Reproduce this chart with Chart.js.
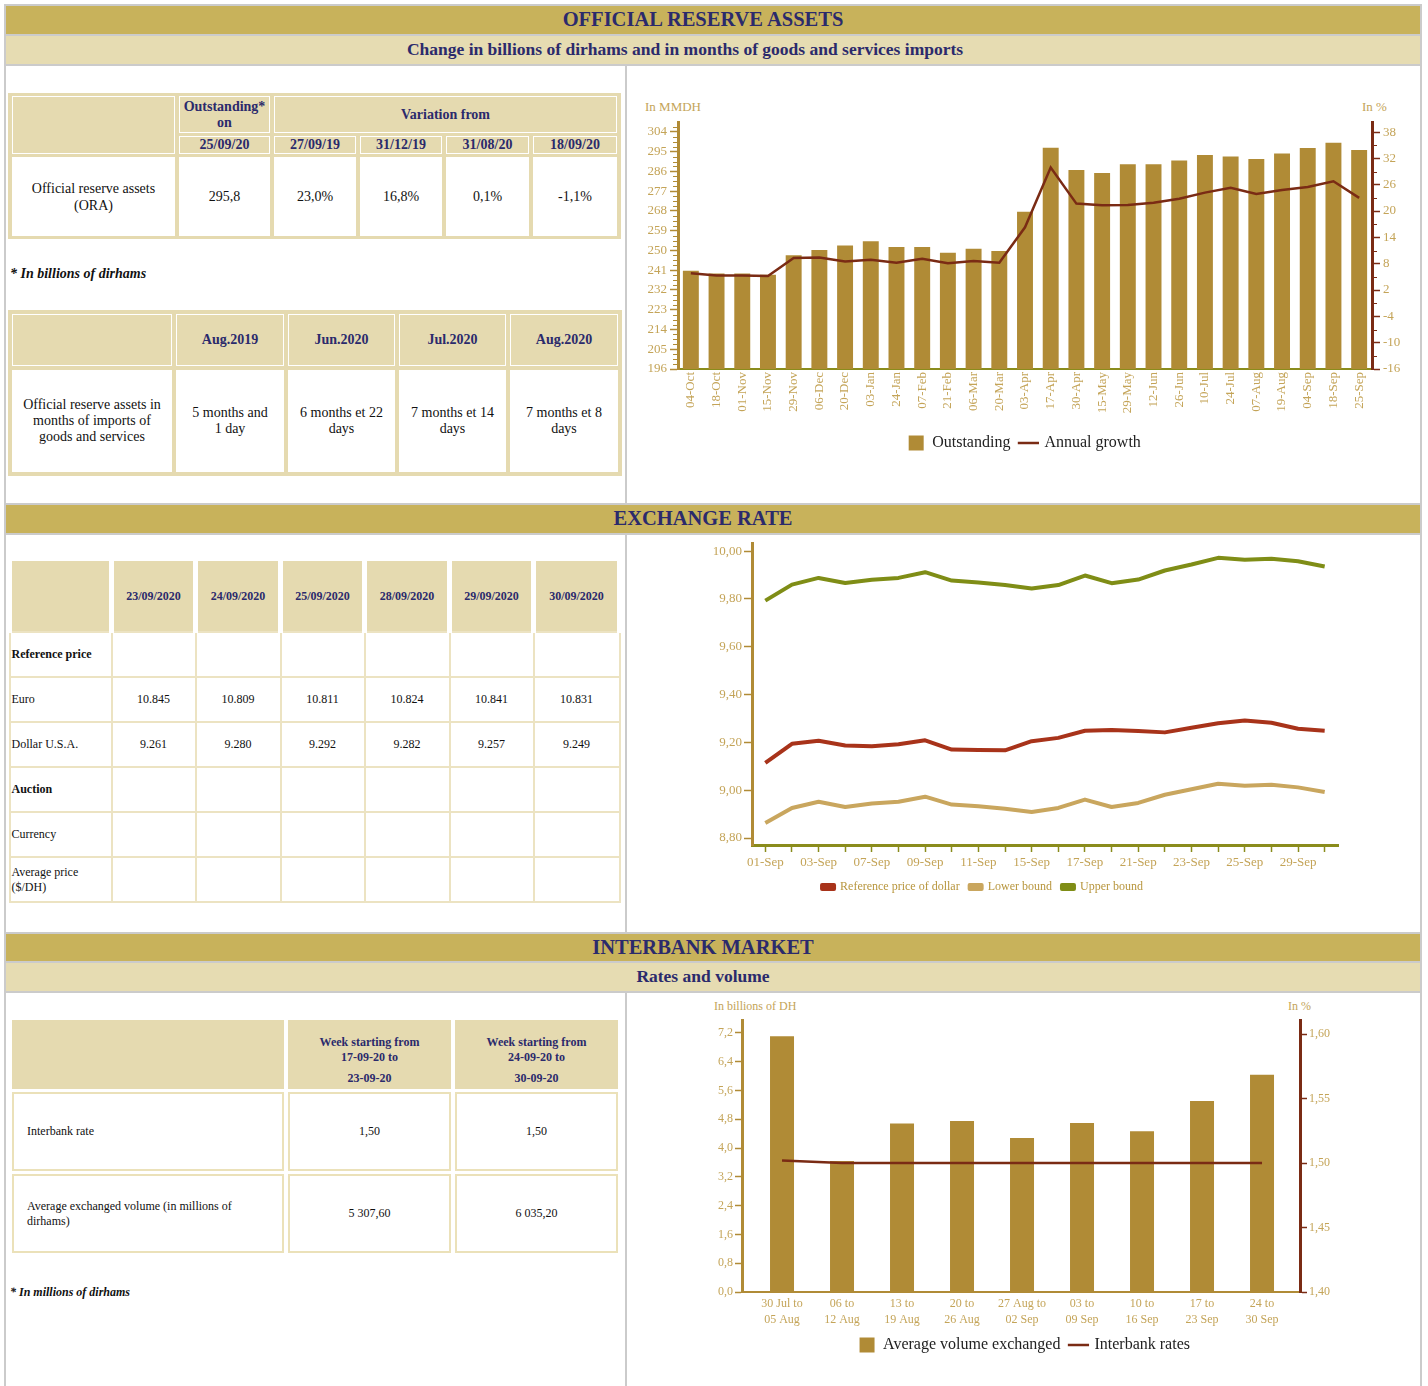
<!DOCTYPE html>
<html lang="en">
<head>
<meta charset="utf-8">
<title>Official reserve assets - Exchange rate - Interbank market</title>
<script src="https://cdn.jsdelivr.net/npm/chart.js@4.4.1/dist/chart.umd.min.js"></script>
<style>
  body { margin: 0; background: #fff; font-family: "Liberation Serif", "Times New Roman", serif; color: #111; }
  #page { position: relative; width: 1428px; height: 1386px; overflow: hidden; }
  .band { position: absolute; left: 4px; width: 1418px; box-sizing: border-box;
          border: 2px solid #cbcbcb; border-bottom: none; text-align: center;
          color: #2b2a6c; font-weight: bold; padding-right: 20px; }
  .gold { background: #c8b25b; font-size: 20.5px; }
  .beige { background: #e6dcb2; font-size: 17.5px; }
  .white { background: #fff; }
  .divider { position: absolute; left: 625px; width: 2px; background: #cbcbcb; }
  .chartbox { position: absolute; left: 627px; width: 795px; }
  .unit { position: absolute; color: #c4a458; font-size: 13px; }
  .note { position: absolute; left: 10px; font-weight: bold; font-style: italic; }

  table { position: absolute; table-layout: fixed; }
  th, td { padding: 0; text-align: center; vertical-align: middle; }

  .t-ora { background: #e5dab0; border-collapse: separate; border-spacing: 4px 3px; font-size: 14px; }
  .t-ora th { background: #e5dab0; border: 1px solid #fff; color: #2b2a6c; line-height: 16px; }
  .t-ora td { background: #fff; line-height: 17px; }

  .t-fx { border-collapse: collapse; font-size: 12px; }
  .t-fx th { background: #e5dab0; color: #2b2a6c; border-left: 5px solid #fff; border-right: 5px solid #fff; }
  .t-fx td { border: 2px solid #ece3c2; line-height: 15px; }
  .t-fx td.lbl { text-align: left; padding-left: 1px; }

  .t-ib { border-collapse: separate; border-spacing: 4px 3px; font-size: 12px; }
  .t-ib th { background: #e5dab0; color: #2b2a6c; vertical-align: top; padding-top: 15px; line-height: 15px; }
  .t-ib td { border: 2px solid #ebe1b9; background: #fff; line-height: 15px; }
  .t-ib td.lbl { text-align: left; padding-left: 13px; }
</style>
</head>
<body>
<div id="page">

  <!-- section 1 -->
  <div class="band gold" style="top:4px;height:30px;line-height:27px;">OFFICIAL RESERVE ASSETS</div>
  <div class="band beige" style="top:34px;height:30px;line-height:26px;padding-right:56px;">Change in billions of dirhams and in months of goods and services imports</div>
  <div class="band white" style="top:64px;height:440px;"></div>
  <div class="divider" style="top:64px;height:440px;"></div>

  <table class="t-ora" style="left:8px;top:93px;width:613px;">
    <colgroup><col style="width:163px"><col style="width:91px"><col style="width:82px"><col style="width:82px"><col style="width:83px"><col style="width:84px"></colgroup>
    <tr style="height:37px"><th rowspan="2"></th><th>Outstanding*<br>on</th><th colspan="4">Variation from</th></tr>
    <tr style="height:17px"><th>25/09/20</th><th>27/09/19</th><th>31/12/19</th><th>31/08/20</th><th>18/09/20</th></tr>
    <tr style="height:79px"><td>Official reserve assets<br>(ORA)</td><td>295,8</td><td>23,0%</td><td>16,8%</td><td>0,1%</td><td>-1,1%</td></tr>
  </table>
  <div class="note" style="top:266px;font-size:14px;">* In billions of dirhams</div>

  <table class="t-ora" style="left:8px;top:310px;width:614px;border-spacing:4px;">
    <colgroup><col style="width:160px"><col style="width:108px"><col style="width:107px"><col style="width:107px"><col style="width:108px"></colgroup>
    <tr style="height:52px"><th></th><th>Aug.2019</th><th>Jun.2020</th><th>Jul.2020</th><th>Aug.2020</th></tr>
    <tr style="height:102px"><td style="line-height:16px">Official reserve assets in<br>months of imports of<br>goods and services</td>
      <td style="line-height:16px">5 months and<br>1 day</td><td style="line-height:16px">6 months et 22<br>days</td>
      <td style="line-height:16px">7 months et 14<br>days</td><td style="line-height:16px">7 months et 8<br>days</td></tr>
  </table>

  <div class="unit" style="left:645px;top:99px;">In MMDH</div>
  <div class="unit" style="left:1362px;top:99px;">In %</div>
  <div class="chartbox" style="top:64px;height:438px;"><canvas id="reserveChart"></canvas></div>

  <!-- section 2 -->
  <div class="band gold" style="top:503px;height:30px;line-height:26px;">EXCHANGE RATE</div>
  <div class="band white" style="top:533px;height:400px;"></div>
  <div class="divider" style="top:533px;height:400px;"></div>

  <table class="t-fx" style="left:7px;top:561px;width:613px;">
    <colgroup><col style="width:102px"><col style="width:84px"><col style="width:85px"><col style="width:84px"><col style="width:85px"><col style="width:84px"><col style="width:86px"></colgroup>
    <tr style="height:71px"><th></th><th>23/09/2020</th><th>24/09/2020</th><th>25/09/2020</th><th>28/09/2020</th><th>29/09/2020</th><th>30/09/2020</th></tr>
    <tr style="height:45px"><td class="lbl"><b>Reference price</b></td><td></td><td></td><td></td><td></td><td></td><td></td></tr>
    <tr style="height:45px"><td class="lbl">Euro</td><td>10.845</td><td>10.809</td><td>10.811</td><td>10.824</td><td>10.841</td><td>10.831</td></tr>
    <tr style="height:45px"><td class="lbl">Dollar U.S.A.</td><td>9.261</td><td>9.280</td><td>9.292</td><td>9.282</td><td>9.257</td><td>9.249</td></tr>
    <tr style="height:45px"><td class="lbl"><b>Auction</b></td><td></td><td></td><td></td><td></td><td></td><td></td></tr>
    <tr style="height:45px"><td class="lbl">Currency</td><td></td><td></td><td></td><td></td><td></td><td></td></tr>
    <tr style="height:45px"><td class="lbl">Average price<br>($/DH)</td><td></td><td></td><td></td><td></td><td></td><td></td></tr>
  </table>

  <div class="chartbox" style="top:533px;height:399px;"><canvas id="rateChart"></canvas></div>

  <!-- section 3 -->
  <div class="band gold" style="top:932px;height:29px;line-height:26px;">INTERBANK MARKET</div>
  <div class="band beige" style="top:961px;height:30px;line-height:27px;">Rates and volume</div>
  <div class="band white" style="top:991px;height:400px;"></div>
  <div class="divider" style="top:991px;height:400px;"></div>

  <table class="t-ib" style="left:8px;top:1017px;width:614px;">
    <colgroup><col style="width:272px"><col style="width:163px"><col style="width:163px"></colgroup>
    <tr style="height:69px"><th></th>
      <th>Week starting from<br>17-09-20 to<div style="margin-top:6px">23-09-20</div></th>
      <th>Week starting from<br>24-09-20 to<div style="margin-top:6px">30-09-20</div></th></tr>
    <tr style="height:79px"><td class="lbl">Interbank rate</td><td>1,50</td><td>1,50</td></tr>
    <tr style="height:79px"><td class="lbl">Average exchanged volume (in millions of<br>dirhams)</td><td>5 307,60</td><td>6 035,20</td></tr>
  </table>
  <div class="note" style="top:1285px;font-size:12px;">* In millions of dirhams</div>

  <div class="unit" style="left:714px;top:999px;font-size:12px;">In billions of DH</div>
  <div class="unit" style="left:1288px;top:999px;font-size:12px;">In %</div>
  <div class="chartbox" style="top:992px;height:394px;"><canvas id="interbankChart"></canvas></div>
</div>

<script>
// official reserve assets (billions of dirhams) and annual growth (%)
const reserveDates = ['04-Oct', '18-Oct', '01-Nov', '15-Nov', '29-Nov', '06-Dec', '20-Dec', '03-Jan', '24-Jan',
  '07-Feb', '21-Feb', '06-Mar', '20-Mar', '03-Apr', '17-Apr', '30-Apr', '15-May', '29-May', '12-Jun', '26-Jun',
  '10-Jul', '24-Jul', '07-Aug', '19-Aug', '04-Sep', '18-Sep', '25-Sep'];
const outstanding = [240.7, 239.5, 239.5, 238.9, 247.8, 250.2, 252.3, 254.2, 251.6, 251.6, 249.0, 250.8, 249.8,
  267.6, 296.8, 286.6, 285.3, 289.2, 289.2, 291.0, 293.5, 292.8, 291.6, 294.1, 296.7, 299.1, 295.8];
const annualGrowth = [5.8, 5.3, 5.3, 5.2, 9.3, 9.4, 8.5, 8.9, 8.2, 9.1, 8.1, 8.6, 8.2,
  16.3, 29.9, 21.7, 21.3, 21.4, 21.9, 22.8, 24.2, 25.3, 23.9, 24.8, 25.5, 26.8, 23.0];
const amountTicks = [196, 205, 214, 223, 232, 241, 250, 259, 268, 277, 286, 295, 304];
const growthTicks = [-16, -10, -4, 2, 8, 14, 20, 26, 32, 38];

// exchange rate, September 2020
const rateDays = ['01-Sep', '02-Sep', '03-Sep', '04-Sep', '07-Sep', '08-Sep', '09-Sep', '10-Sep', '11-Sep', '14-Sep',
  '15-Sep', '16-Sep', '17-Sep', '18-Sep', '21-Sep', '22-Sep', '23-Sep', '24-Sep', '25-Sep', '28-Sep', '29-Sep', '30-Sep'];
const refDollar = [9.114, 9.194, 9.207, 9.187, 9.184, 9.192, 9.209, 9.170, 9.168, 9.167, 9.205,
  9.219, 9.249, 9.252, 9.248, 9.242, 9.261, 9.280, 9.292, 9.282, 9.257, 9.249];
const lowerBound = [8.863, 8.926, 8.952, 8.930, 8.945, 8.952, 8.973, 8.940, 8.933, 8.923, 8.909,
  8.926, 8.961, 8.930, 8.947, 8.981, 9.004, 9.027, 9.019, 9.023, 9.012, 8.993];
const upperBound = [9.793, 9.860, 9.888, 9.867, 9.880, 9.888, 9.912, 9.877, 9.869, 9.858, 9.844,
  9.858, 9.898, 9.866, 9.881, 9.919, 9.944, 9.972, 9.964, 9.968, 9.958, 9.936];
const rateTicks = [8.8, 9.0, 9.2, 9.4, 9.6, 9.8, 10.0];

// interbank market, weekly
const weeks = [['30 Jul to', '05 Aug'], ['06 to', '12 Aug'], ['13 to', '19 Aug'], ['20 to', '26 Aug'],
  ['27 Aug to', '02 Sep'], ['03 to', '09 Sep'], ['10 to', '16 Sep'], ['17 to', '23 Sep'], ['24 to', '30 Sep']];
const avgVolume = [7.11, 3.64, 4.68, 4.75, 4.28, 4.70, 4.47, 5.31, 6.04];
const interbankRate = [1.502, 1.50, 1.50, 1.50, 1.50, 1.50, 1.50, 1.50, 1.50];
const volumeTicks = [0, 0.8, 1.6, 2.4, 3.2, 4.0, 4.8, 5.6, 6.4, 7.2];
const interbankTicks = [1.40, 1.45, 1.50, 1.55, 1.60];

Chart.defaults.font.family = '"Liberation Serif", "Times New Roman", serif';
Chart.defaults.animation = false;

const tickGold = '#c4a458';
const barGold = '#b08b36';
const brown = '#7a2b14';
const olive = '#8a8c1c';

// axes only show the listed values
function fixedTicks(list) {
  return scale => { scale.ticks = list.map(v => ({ value: v })); };
}
function comma(digits) {
  return v => v.toFixed(digits).replace('.', ',');
}

// small unlabelled ticks between the labelled ones
const minorTicks = {
  id: 'minorTicks',
  afterDraw(chart, args, opts) {
    const ctx = chart.ctx;
    (opts.axes || []).forEach(a => {
      const scale = chart.scales[a.id];
      ctx.save();
      ctx.strokeStyle = a.color;
      ctx.lineWidth = 1;
      a.values.forEach(v => {
        const y = Math.round(scale.getPixelForValue(v)) + 0.5;
        const x0 = a.side === 'left' ? scale.right : scale.left;
        const x1 = a.side === 'left' ? x0 - 5 : x0 + 5;
        ctx.beginPath();
        ctx.moveTo(x0, y);
        ctx.lineTo(x1, y);
        ctx.stroke();
      });
      ctx.restore();
    });
  }
};

const minorAmount = [];
for (let v = 198.25; v < 308.5; v += 2.25) {
  if ((v - 196) % 9 !== 0) minorAmount.push(v);
}
const minorGrowth = [-13, -7, -1, 5, 11, 17, 23, 29, 35];

new Chart(document.getElementById('reserveChart'), {
  type: 'bar',
  data: {
    labels: reserveDates,
    datasets: [
      { type: 'bar', label: 'Outstanding', data: outstanding, yAxisID: 'yAmount',
        backgroundColor: barGold, barPercentage: 0.62, categoryPercentage: 1, pointStyle: 'rect', order: 2 },
      { type: 'line', label: 'Annual growth', data: annualGrowth, yAxisID: 'yGrowth',
        borderColor: brown, backgroundColor: brown, borderWidth: 2.5, pointRadius: 0, pointStyle: 'line', order: 1 }
    ]
  },
  options: {
    responsive: true,
    maintainAspectRatio: false,
    layout: { padding: { top: 58, bottom: 41, left: 0, right: 0 } },
    plugins: {
      legend: {
        position: 'bottom',
        labels: { usePointStyle: true, boxHeight: 15, color: '#222', font: { size: 16 }, padding: 10,
          sort: (a, b) => a.datasetIndex - b.datasetIndex }
      },
      tooltip: { enabled: false },
      minorTicks: { axes: [
        { id: 'yAmount', side: 'left', color: barGold, values: minorAmount },
        { id: 'yGrowth', side: 'right', color: brown, values: minorGrowth }
      ] }
    },
    scales: {
      x: {
        offset: true,
        grid: { display: false, drawTicks: false },
        border: { color: olive, width: 2 },
        ticks: { color: tickGold, font: { size: 13 }, minRotation: 90, maxRotation: 90, autoSkip: false, padding: 3 },
        afterFit: s => { s.height = 56; }
      },
      yAmount: {
        position: 'left', min: 196, max: 308.5,
        afterBuildTicks: fixedTicks(amountTicks),
        grid: { drawOnChartArea: false, tickLength: 8, tickColor: barGold, tickWidth: 1.5 },
        border: { color: barGold, width: 3 },
        ticks: { color: tickGold, font: { size: 13 }, padding: 3 },
        afterFit: s => { s.width = 51; }
      },
      yGrowth: {
        position: 'right', min: -16, max: 40.3,
        afterBuildTicks: fixedTicks(growthTicks),
        grid: { drawOnChartArea: false, tickLength: 8, tickColor: brown, tickWidth: 1.5 },
        border: { color: brown, width: 3 },
        ticks: { color: tickGold, font: { size: 13 }, padding: 3 },
        afterFit: s => { s.width = 50; }
      }
    }
  },
  plugins: [minorTicks]
});

new Chart(document.getElementById('rateChart'), {
  type: 'line',
  data: {
    labels: rateDays,
    datasets: [
      { label: 'Reference price of dollar', data: refDollar, borderColor: '#a8331a', backgroundColor: '#a8331a',
        borderWidth: 4, pointRadius: 0, borderJoinStyle: 'round' },
      { label: 'Lower bound', data: lowerBound, borderColor: '#c9a65e', backgroundColor: '#c9a65e',
        borderWidth: 4, pointRadius: 0, borderJoinStyle: 'round' },
      { label: 'Upper bound', data: upperBound, borderColor: '#7f8d16', backgroundColor: '#7f8d16',
        borderWidth: 4, pointRadius: 0, borderJoinStyle: 'round' }
    ]
  },
  options: {
    responsive: true,
    maintainAspectRatio: false,
    layout: { padding: { top: 10, bottom: 29, left: 0, right: 84 } },
    plugins: {
      legend: {
        position: 'bottom',
        labels: { boxWidth: 12, boxHeight: 4, color: '#b8963e', font: { size: 12 }, padding: 10 }
      },
      tooltip: { enabled: false }
    },
    scales: {
      x: {
        offset: true,
        grid: { drawOnChartArea: false, tickLength: 7, tickColor: olive, tickWidth: 1.5 },
        border: { color: olive, width: 3 },
        ticks: { color: tickGold, font: { size: 13 }, autoSkip: false, maxRotation: 0, padding: 3,
          callback: (v, i) => (i % 2 === 0 ? rateDays[i] : '') },
        afterFit: s => { s.height = 26; }
      },
      y: {
        min: 8.771, max: 10.034,
        afterBuildTicks: fixedTicks(rateTicks),
        grid: { drawOnChartArea: false, tickLength: 8, tickColor: barGold, tickWidth: 1.5 },
        border: { color: barGold, width: 3 },
        ticks: { color: tickGold, font: { size: 13 }, padding: 2, callback: comma(2) },
        afterFit: s => { s.width = 125; }
      }
    }
  }
});

// weeks sit on a numeric axis so the margin before the first and after the last bar can be wider
const weekIndex = weeks.map((w, i) => i);

new Chart(document.getElementById('interbankChart'), {
  type: 'bar',
  data: {
    datasets: [
      { type: 'bar', label: 'Average volume exchanged', data: avgVolume.map((v, i) => ({ x: i, y: v })),
        yAxisID: 'yVolume', backgroundColor: barGold, barPercentage: 0.4, categoryPercentage: 1,
        pointStyle: 'rect', order: 2 },
      { type: 'line', label: 'Interbank rates', data: interbankRate.map((v, i) => ({ x: i, y: v })),
        yAxisID: 'yRate', borderColor: brown, backgroundColor: brown, borderWidth: 2.5, pointRadius: 0,
        pointStyle: 'line', order: 1 }
    ]
  },
  options: {
    responsive: true,
    maintainAspectRatio: false,
    layout: { padding: { top: 28, bottom: 23, left: 0, right: 0 } },
    plugins: {
      legend: {
        position: 'bottom',
        labels: { usePointStyle: true, boxHeight: 15, color: '#222', font: { size: 16 }, padding: 10,
          sort: (a, b) => a.datasetIndex - b.datasetIndex }
      },
      tooltip: { enabled: false }
    },
    scales: {
      x: {
        type: 'linear', min: -0.667, max: 8.633, offset: false,
        afterBuildTicks: fixedTicks(weekIndex),
        grid: { display: false, drawTicks: false },
        border: { color: barGold, width: 2 },
        ticks: { color: tickGold, font: { size: 12, lineHeight: 1.4 }, maxRotation: 0, autoSkip: false, padding: 3,
          callback: v => weeks[v] },
        afterFit: s => { s.height = 35; }
      },
      yVolume: {
        position: 'left', min: 0, max: 7.56,
        afterBuildTicks: fixedTicks(volumeTicks),
        grid: { drawOnChartArea: false, tickLength: 7, tickColor: barGold, tickWidth: 1.5 },
        border: { color: barGold, width: 3 },
        ticks: { color: tickGold, font: { size: 12 }, padding: 2, callback: comma(1) },
        afterFit: s => { s.width = 115; }
      },
      yRate: {
        position: 'right', min: 1.40, max: 1.611,
        afterBuildTicks: fixedTicks(interbankTicks),
        grid: { drawOnChartArea: false, tickLength: 7, tickColor: brown, tickWidth: 1.5 },
        border: { color: brown, width: 3 },
        ticks: { color: tickGold, font: { size: 12 }, padding: 2, callback: comma(2) },
        afterFit: s => { s.width = 122; }
      }
    }
  }
});
</script>
</body>
</html>
